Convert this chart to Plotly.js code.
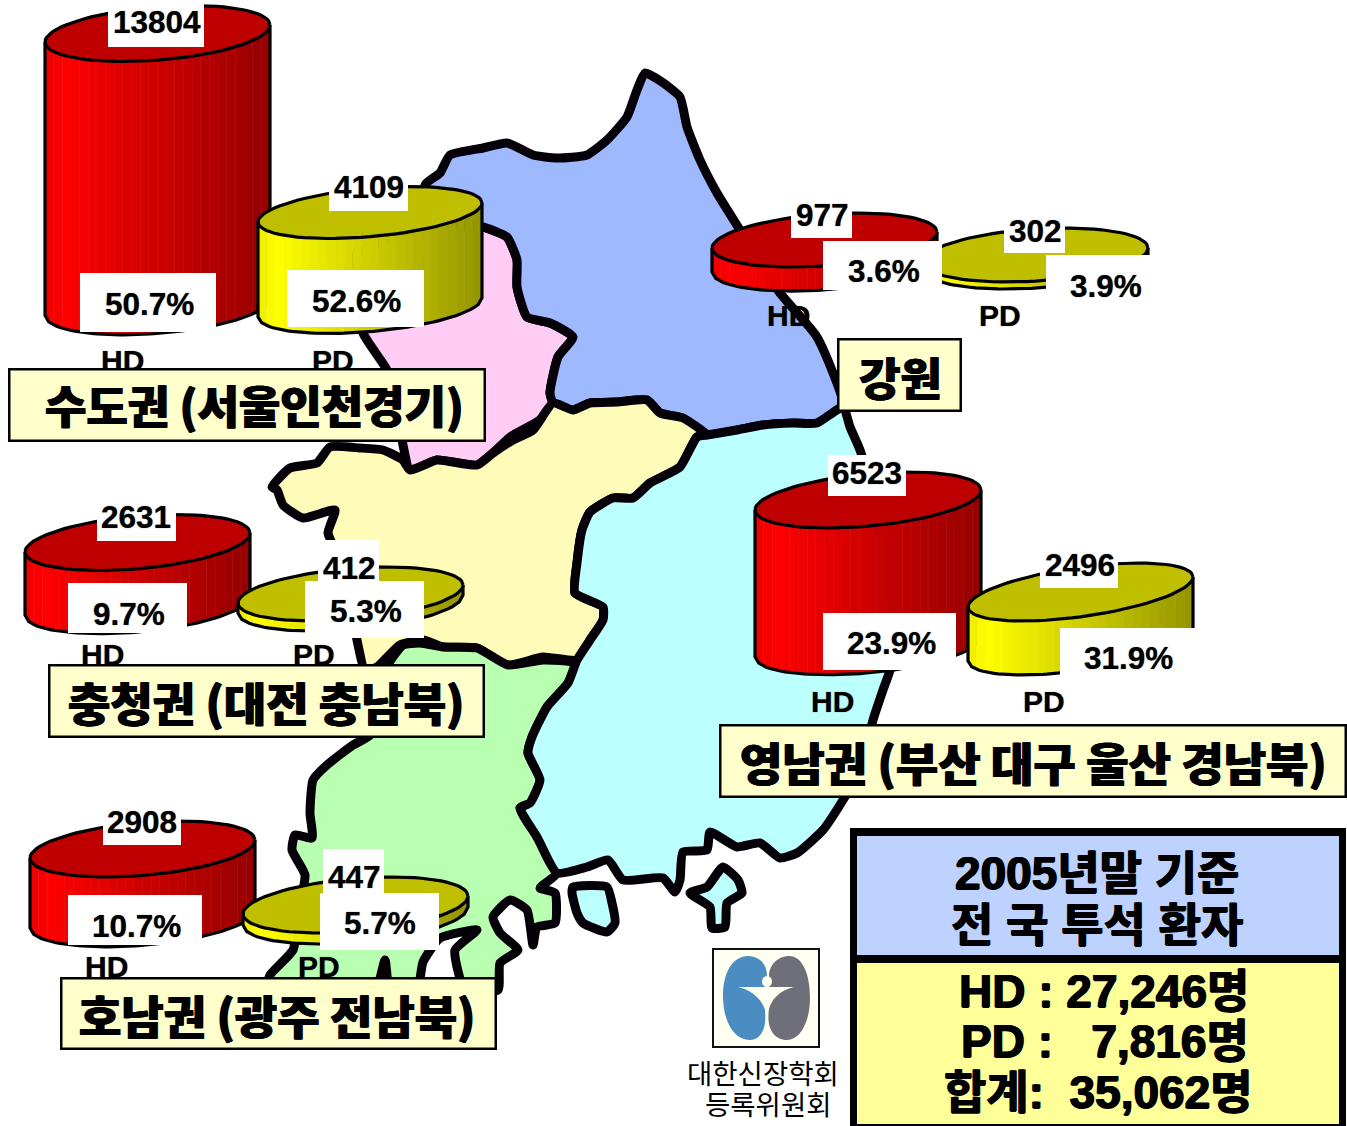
<!DOCTYPE html>
<html>
<head>
<meta charset="utf-8">
<script src="https://cdn.plot.ly/plotly-3.0.1.min.js"></script>
<style>html,body{margin:0;padding:0;background:#fff}#chart{width:1347px;height:1126px}</style>
</head>
<body>
<div id="chart"></div>
<script>
// ---------- chart values ----------
const regionNames = ["수도권 (서울인천경기)", "강원", "충청권 (대전 충남북)", "영남권 (부산 대구 울산 경남북)", "호남권 (광주 전남북)"];
const hdPatients = [13804, 977, 2631, 6523, 2908];
const pdPatients = [4109, 302, 412, 2496, 447];
const hdShare = ["50.7%", "3.6%", "9.7%", "23.9%", "10.7%"];
const pdShare = ["52.6%", "3.9%", "5.3%", "31.9%", "5.7%"];
const modalities = ["HD", "PD"];
const summaryTitle = ["2005년말 기준", "전 국 투석 환자"];
const summaryLines = ["HD : 27,246명", "PD :\u00a0\u00a0\u00a07,816명", "합계:\u00a0\u00a035,062명"];
const societyLines = ["대한신장학회", "등록위원회"];

// ---------- map outline (page coordinates) ----------
const gangwonRing = [645,73,662,82,680,97,687,127,700,160,717,193,740,230,780,293,817,337,843,407,817,423,793,423,763,425,737,430,707,435,683,418,660,413,647,400,617,402,590,403,573,410,553,403,550,393,558,357,573,337,550,323,527,317,517,287,517,260,507,237,483,227,450,225,425,185,440,173,450,155,483,148,507,143,533,155,557,158,587,155,607,140,627,117,637,90];
const capitalRing = [440,220,483,227,507,237,517,260,517,287,527,317,550,323,573,337,558,357,550,393,553,403,540,420,510,437,493,453,477,465,437,460,410,470,403,445,395,400,387,370,363,333,350,260];
const chungRing = [272,487,290,468,317,463,330,447,360,448,383,450,403,460,410,470,437,460,477,465,493,453,513,440,533,430,553,403,573,410,590,403,617,402,647,400,660,413,683,418,707,435,697,437,680,467,650,483,633,498,613,498,590,512,582,530,577,563,575,593,603,607,603,620,590,640,577,660,543,657,508,665,477,648,443,647,423,640,400,645,377,667,365,670,357,640,350,600,340,560,328,533,335,510,303,518,283,505,277,490];
const honamRing = [388,665,403,645,420,643,443,647,477,648,508,665,543,660,575,663,568,683,547,707,532,737,528,753,540,780,530,803,520,808,537,837,557,873,540,888,555,893,555,923,537,927,533,945,527,910,510,900,493,917,500,933,518,950,500,963,498,990,465,990,455,950,477,930,440,938,423,962,417,990,390,990,385,960,375,990,267,990,270,975,293,950,300,905,305,875,292,850,295,835,312,838,310,813,313,780,327,765,353,745,370,735];
const yeongnamRing = [707,435,737,430,763,425,793,423,817,423,843,407,850,427,860,450,872,490,885,560,893,640,890,670,883,690,873,720,860,770,843,800,823,830,797,853,780,858,760,843,737,847,710,832,707,850,683,852,680,880,675,892,663,878,623,880,608,860,587,867,557,873,537,837,520,808,530,803,540,780,528,753,532,737,547,707,568,683,577,660,590,640,603,620,603,607,575,593,577,563,582,530,590,512,613,498,633,498,650,483,680,467,697,437];
const islandWest = [573,887,607,887,612,903,615,923,607,932,583,923,577,913,572,893];
const islandEast = [723,867,738,880,742,893,727,903,725,927,712,928,710,907,690,893,707,887];
const mapRings = [
  [capitalRing, "#FFCCF5"], [gangwonRing, "#9FB9FF"], [chungRing, "#FFFBB8"],
  [honamRing, "#B9FFB2"], [yeongnamRing, "#BBFFFF"], [islandWest, "#BBFFFF"], [islandEast, "#BBFFFF"]
];

// ---------- cylinder geometry: [xLeft, xRight, yLeft, yRight, halfHeight, pxPerPatient] ----------
const hdGeom = [[45,270,42,25,28,.0198],[712,937,248,232,27,.0246],[25,250,552,533,28,.0240],[755,981,510,490,28,.0225],[30,255,858,840,28,.0240]];
const pdGeom = [[258,482,222,203,26,.0231],[923,1148,262,248,27,.0232],[238,463,603,585,27,.0243],[968,1193,607,577,29,.0216],[243,468,914,896,28,.0246]];

// ---------- label placement ----------
const valueBoxes = [
  [108,204,3,47],[329,408,173,211],[80,216,273,332],[287,424,270,327],
  [791,852,200,238],[1004,1065,217,253],[823,942,241,290],[1046,1165,255,310],
  [97,176,503,541],[318,379,540,581],[68,187,583,633],[305,424,581,638],
  [828,906,455,496],[1040,1118,550,588],[823,956,613,670],[1060,1195,628,685],
  [103,181,805,845],[323,384,849,893],[68,202,895,945],[320,439,893,950]
];
const hdCountAt = [[157,22],[822,215],[136,517],[867,473],[142,822]];
const pdCountAt = [[369,187],[1035,231],[349,568],[1080,565],[354,877]];
const hdShareAt = [[149,304],[884,271],[129,614],[891,643],[136,926]];
const pdShareAt = [[356,301],[1106,286],[366,611],[1128,658],[380,923]];
const hdLabelAt = [[122,360],[788,315],[102,654],[832,701],[106,966]];
const pdLabelAt = [[333,360],[1000,315],[314,654],[1044,701],[319,966]];
const titleBoxes = [[9,485,369,441],[838,961,339,411],[49,484,665,737],[720,1346,725,797],[61,496,978,1049]];
const titleAt = [[254,404],[900,376],[266,701],[1033,761],[277,1014]];
const titleSize = [45,45,46,46,46];

const LATIN = "'Liberation Sans','Noto Sans CJK KR',sans-serif";
const HANGUL = "'Noto Sans CJK KR',sans-serif";
const traces = [];

function ringXY(r){ const x=[],y=[]; for(let i=0;i<r.length;i+=2){x.push(r[i]);y.push(r[i+1]);} x.push(r[0]);y.push(r[1]); return {x,y}; }
mapRings.forEach(([ring,color])=>{
  const p=ringXY(ring);
  traces.push({type:"scatter",mode:"lines",x:p.x,y:p.y,fill:"toself",fillcolor:color,
    line:{color:"#050008",width:9,shape:"spline",smoothing:0.5},hoverinfo:"skip",showlegend:false});
});

function shade(rgbMax,u){
  const f = u<0.08 ? 0.92+u : 1-0.42*(u-0.08)/0.92;
  return "rgb("+rgbMax.map(c=>Math.round(c*f)).join(",")+")";
}
function cylinder(g,value,rgbMax,topColor){
  const [xL,xR,yL,yR,H,k]=g;
  const cx=(xL+xR)/2, A=(xR-xL)/2, cy=(yL+yR)/2, S=(yL-yR)/2, B=Math.sqrt(H*H-S*S), h=value*k;
  const front=u=>{const c=2*u-1, s=-Math.sqrt(Math.max(0,1-c*c)); return [cx+A*c, cy-S*c-B*s];};
  const N=26;
  for(let i=0;i<N;i++){
    const us=[0,1,2,3].map(j=>(i+j/3)/N), a=us.map(front);
    const xs=a.map(p=>p[0]), ysT=a.map(p=>p[1]), ysB=ysT.map(v=>v+h);
    traces.push({type:"scatter",mode:"lines",x:xs.concat(xs.slice().reverse(),[xs[0]]),
      y:ysT.concat(ysB.reverse(),[ysT[0]]),fill:"toself",fillcolor:shade(rgbMax,(i+.5)/N),
      line:{width:0.6,color:shade(rgbMax,(i+.5)/N)},hoverinfo:"skip",showlegend:false});
  }
  const sx=[],sy=[];
  for(let i=0;i<=60;i++){const p=front(i/60);sx.push(p[0]);sy.push(p[1]+h);}
  traces.push({type:"scatter",mode:"lines",x:[xL].concat(sx,[xR]),y:[yL].concat(sy,[yR]),
    line:{color:"#000",width:3.2},hoverinfo:"skip",showlegend:false,customdata:[value]});
  const ex=[],ey=[];
  for(let i=0;i<=80;i++){const t=i/80*2*Math.PI;ex.push(cx+A*Math.cos(t));ey.push(cy-S*Math.cos(t)-B*Math.sin(t));}
  traces.push({type:"scatter",mode:"lines",x:ex,y:ey,fill:"toself",fillcolor:topColor,
    line:{color:"#000",width:3.2},hoverinfo:"skip",showlegend:false});
}
[0,2,3,4,1].forEach(i=>{
  cylinder(hdGeom[i],hdPatients[i],[255,0,0],"#BE0000");
  cylinder(pdGeom[i],pdPatients[i],[255,255,0],"#BFBF00");
});

const shapes = valueBoxes.map(b=>({type:"rect",layer:"above",x0:b[0],x1:b[1],y0:b[2],y1:b[3],fillcolor:"#fff",line:{width:0}}));
// summary panel
shapes.push({type:"rect",layer:"above",x0:850,x1:1346,y0:828,y1:1126,fillcolor:"#000",line:{width:0}});
shapes.push({type:"rect",layer:"above",x0:857,x1:1339,y0:836,y1:955,fillcolor:"#BDD2FF",line:{width:0}});
shapes.push({type:"rect",layer:"above",x0:857,x1:1339,y0:963,y1:1124,fillcolor:"#FFFF99",line:{width:0}});
// society logo
shapes.push({type:"rect",layer:"above",x0:713,x1:819,y0:949,y1:1047,fillcolor:"#FFFFF2",line:{color:"#111",width:2}});
shapes.push({type:"path",layer:"above",fillcolor:"#4B8DC2",line:{width:0},
  path:"M 748 956 C 761 956 767 966 767 976 L 765 1010 C 767 1026 762 1040 750 1040 C 733 1040 723 1020 723 996 C 723 972 733 956 748 956 Z"});
shapes.push({type:"path",layer:"above",fillcolor:"#6F6F7A",line:{width:0},
  path:"M 789 956 C 803 956 810 975 810 998 C 810 1022 800 1040 787 1040 C 775 1040 768 1030 768 1015 L 769 976 C 769 965 778 956 789 956 Z"});
shapes.push({type:"path",layer:"above",fillcolor:"#FFFFF2",line:{width:0},
  path:"M 738 987 L 794 987 C 780 990 770 1000 768.5 1012 L 768 1040 L 766.5 1040 L 765.5 1012 C 763 1000 752 990 738 987 Z"});
shapes.push({type:"circle",layer:"above",x0:762,x1:772,y0:976,y1:987,fillcolor:"#FFFFF2",line:{width:0}});

function note(text,at,size,family,extra){
  return Object.assign({xref:"x",yref:"y",x:at[0],y:at[1],text:text,showarrow:false,xanchor:"center",yanchor:"middle",
    font:{family:family,size:size,color:"#000",weight:700,shadow:"0 0 1px rgba(0,0,0,.7)"}},extra||{});
}
const annotations = [];
regionNames.forEach((name,i)=>{
  annotations.push(note(modalities[0],hdLabelAt[i],30,LATIN));
  annotations.push(note(modalities[1],pdLabelAt[i],30,LATIN));
  annotations.push(note(String(hdPatients[i]),hdCountAt[i],31.5,LATIN));
  annotations.push(note(String(pdPatients[i]),pdCountAt[i],31.5,LATIN));
  annotations.push(note(hdShare[i],hdShareAt[i],31.5,LATIN));
  annotations.push(note(pdShare[i],pdShareAt[i],31.5,LATIN));
});
regionNames.forEach((name,i)=>{
  const b=titleBoxes[i];
  annotations.push(note("\u00a0",[(b[0]+b[1])/2,(b[2]+b[3])/2],20,HANGUL,{
    width:b[1]-b[0]-3,height:b[3]-b[2]-3,borderpad:0,borderwidth:2.5,bordercolor:"#000",bgcolor:"#FFFFCC"}));
  annotations.push(note(name,titleAt[i],titleSize[i],HANGUL,{
    font:{family:HANGUL,size:titleSize[i],color:"#000",weight:900,shadow:"0.7px 0 0 #000, -0.7px 0 0 #000"}}));
});
const heavy={family:LATIN,size:46,color:"#000",weight:700,shadow:"0.8px 0 0 #000, -0.8px 0 0 #000, 0 0.5px 0 #000"};
annotations.push(note(summaryTitle[0],[1097,873],46,LATIN,{font:heavy}));
annotations.push(note(summaryTitle[1],[1097,925],46,LATIN,{font:heavy}));
annotations.push(note(summaryLines[0],[1104,991],46,LATIN,{font:heavy}));
annotations.push(note(summaryLines[1],[1105,1041],46,LATIN,{font:heavy}));
annotations.push(note(summaryLines[2],[1098,1092],46,LATIN,{font:heavy}));
annotations.push(note(societyLines[0],[763,1072],27.5,HANGUL,{font:{family:HANGUL,size:27.5,color:"#000",weight:400}}));
annotations.push(note(societyLines[1],[768,1103],27.5,HANGUL,{font:{family:HANGUL,size:27.5,color:"#000",weight:400}}));

const hidden={visible:false,fixedrange:true,showgrid:false,zeroline:false};
Plotly.newPlot("chart",traces,{
  width:1347,height:1126,margin:{l:0,r:0,t:0,b:0,pad:0},paper_bgcolor:"#fff",plot_bgcolor:"#fff",showlegend:false,
  xaxis:Object.assign({range:[0,1347]},hidden),
  yaxis:Object.assign({range:[1126,0]},hidden),
  shapes:shapes,annotations:annotations,hovermode:false
},{displayModeBar:false,staticPlot:true});
</script>
</body>
</html>
